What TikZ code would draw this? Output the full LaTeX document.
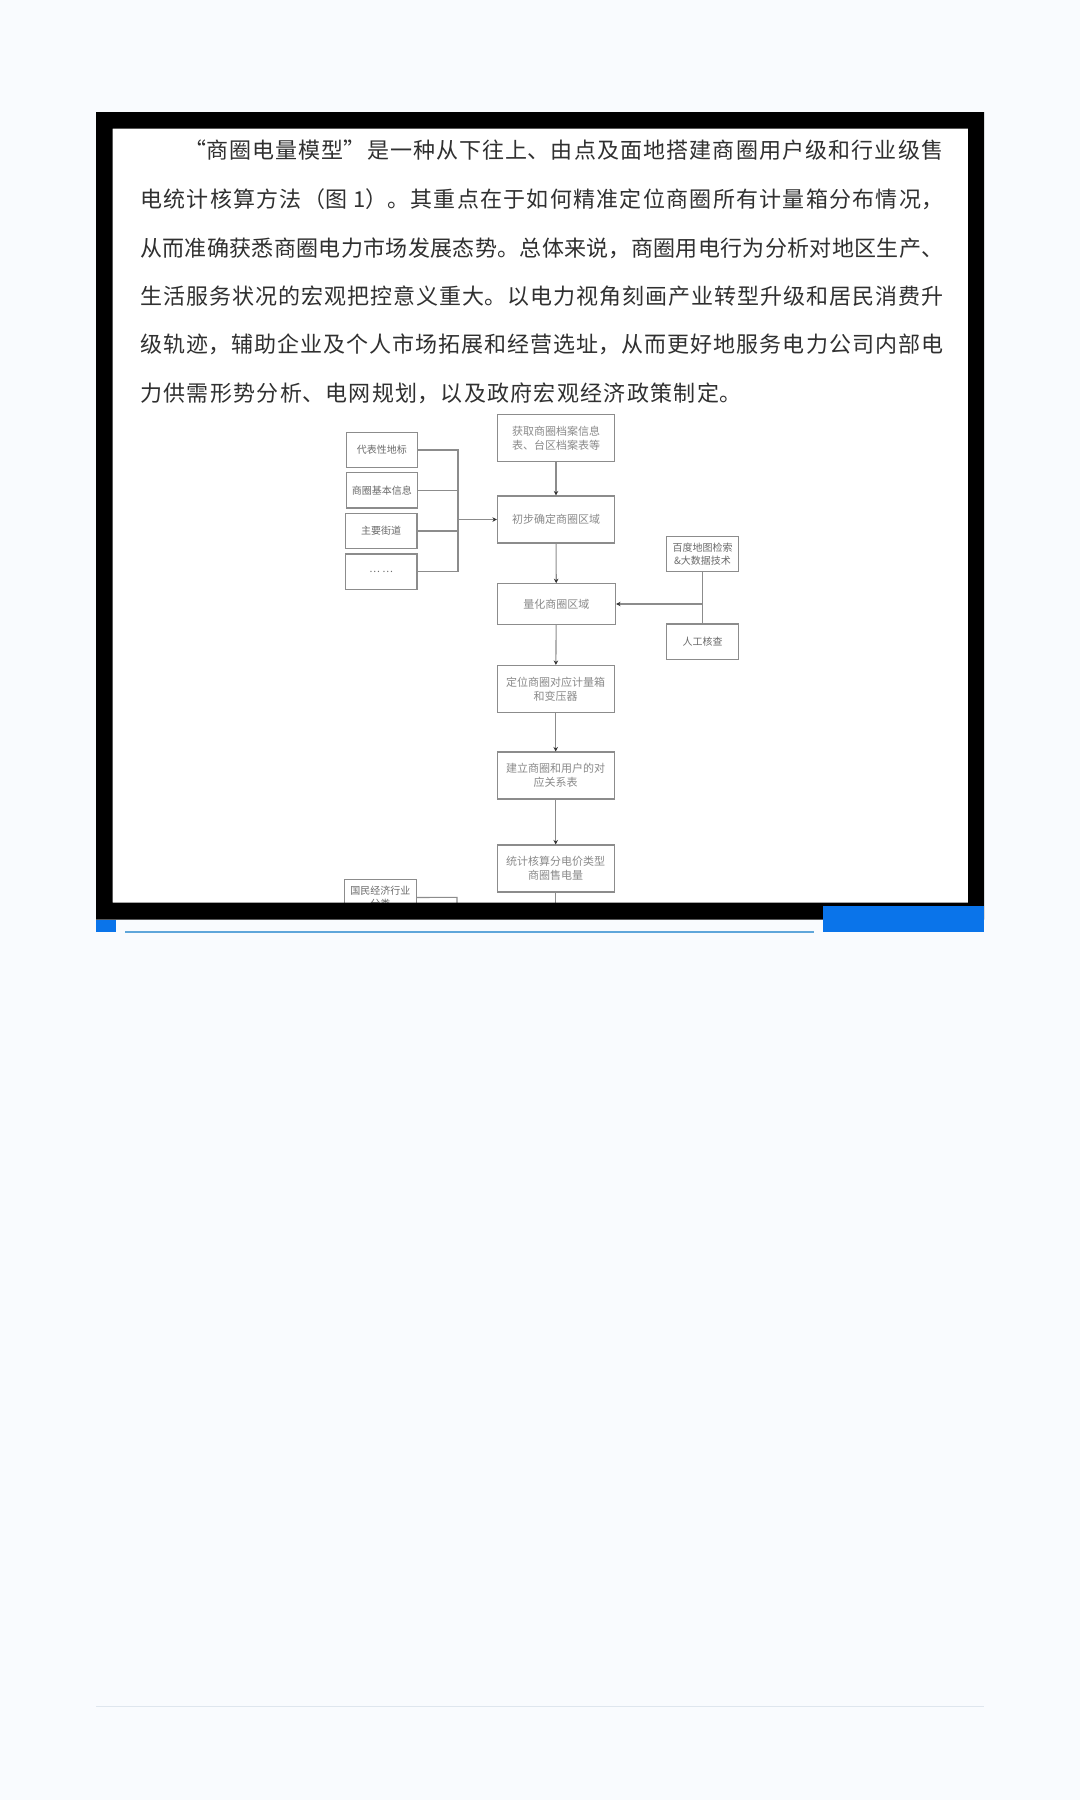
\documentclass[tikz,border=0pt]{standalone}
\usepackage{fontspec}
\setmainfont{Noto Sans CJK SC}
\usetikzlibrary{arrows.meta}
\XeTeXlinebreaklocale "zh"
\XeTeXlinebreakskip=0pt plus 3pt
\definecolor{pagebg}{HTML}{F9FBFE}
\definecolor{barblue}{HTML}{0A74EA}
\definecolor{rulel}{HTML}{5FA6DA}
\definecolor{ruled}{HTML}{DFE6EE}
\definecolor{boxline}{HTML}{8C8C8C}
\definecolor{midtext}{HTML}{8A8A8A}
\definecolor{sidetext}{HTML}{6A6A6A}
\definecolor{bodytext}{HTML}{303030}
\newcommand{\bodyline}[4]{\node[bodyl,anchor=west] (#1) at #2 {\parbox{#3pt}{\parindent=0pt\parfillskip=0pt\relax #4}};}
\tikzset{
  bodyl/.style={inner sep=0pt,text=bodytext,font=\fontsize{22}{26}\selectfont},
  midbox/.style={draw=boxline,line width=1.1pt,fill=white,inner sep=0pt,align=center,text=midtext,
    minimum width=117pt,minimum height=47pt,font=\fontsize{11}{14}\selectfont},
  sidebox/.style={draw=boxline,line width=1.1pt,fill=white,inner sep=0pt,align=center,text=sidetext,
    minimum width=71.5pt,minimum height=35.5pt,font=\fontsize{10}{13}\selectfont},
  conn/.style={draw=boxline,line width=1.1pt},
  arr/.style={conn,-{Stealth[length=4.5pt,width=4.5pt,color=black!80]}}
}
\begin{document}
\begin{tikzpicture}[x=1pt,y=-1pt]
\useasboundingbox (0,0) rectangle (1080,1800);
\fill[pagebg] (0,0) rectangle (1080,1800);
\fill[white] (112,128) rectangle (969,903);
% body text
\bodyline{tta}{(184,150)}{759}{“商圈电量模型”是一种从下往上、由点及面地搭建商圈用户级和行业级售}
\bodyline{ttb}{(140,199)}{803}{电统计核算方法（图 1）。其重点在于如何精准定位商圈所有计量箱分布情况，}
\bodyline{ttc}{(140,248)}{803}{从而准确获悉商圈电力市场发展态势。总体来说，商圈用电行为分析对地区生产、}
\bodyline{ttd}{(140,296)}{803}{生活服务状况的宏观把控意义重大。以电力视角刻画产业转型升级和居民消费升}
\bodyline{tte}{(140,344)}{803}{级轨迹，辅助企业及个人市场拓展和经营选址，从而更好地服务电力公司内部电}
\bodyline{ttf}{(140,393)}{601}{力供需形势分析、电网规划，以及政府宏观经济政策制定。}
% centre column
\node[midbox] (m1) at (556,438) {获取商圈档案信息\\表、台区档案表等};
\node[midbox] (m2) at (556,519.5) {初步确定商圈区域};
\node[midbox,minimum width=118.5pt,minimum height=40.5pt] (m3) at (556.3,604) {量化商圈区域};
\node[midbox] (m4) at (555.7,689) {定位商圈对应计量箱\\和变压器};
\node[midbox] (m5) at (555.7,775.5) {建立商圈和用户的对\\应关系表};
\node[midbox] (m6) at (555.7,868.5) {统计核算分电价类型\\商圈售电量};
% left column
\node[sidebox] (l1) at (381.8,450) {代表性地标};
\node[sidebox] (l2) at (381.8,490.2) {商圈基本信息};
\node[sidebox] (l3) at (381.2,531) {主要街道};
\node[sidebox] (l4) at (381.2,571.7) {… …};
\node[sidebox] (l5) at (380.4,897.5) {国民经济行业\\分类};
% right column
\node[sidebox] (r1) at (702.5,553.8) {百度地图检索\\\&大数据技术};
\node[sidebox] (r2) at (702.5,641.7) {人工核查};
% centre arrows
\draw[arr] (m1) -- (m2);
\draw[arr] (m2) -- (m3);
\draw[arr] (m3) -- (m4);
\draw[arr] (m4) -- (m5);
\draw[arr] (m5) -- (m6);
\coordinate (m6end) at (555.7,910);
\draw[conn] (m6) -- (m6end);
% left bracket
\coordinate (bust) at (458,450);
\coordinate (busb) at (458,571.7);
\draw[conn] (l1.east) -- (bust) -- (busb) -- (l4.east);
\draw[conn] (l2.east) -- (l2.east -| bust);
\draw[conn] (l3.east) -- (l3.east -| bust);
\draw[arr] (bust |- m2.west) -- (m2.west);
\coordinate (lbt) at (457,897.3);
\coordinate (lbb) at (457,910);
\draw[conn] (l5.east) -- (lbt) -- (lbb);
% right branch
\draw[conn] (r1) -- (r2);
\draw[arr] (r1.south |- m3.east) -- (m3.east);
% frame
\fill[black,even odd rule] (96,112) rectangle (984,919.5) (112.5,128.5) rectangle (968,902.5);
% blue bars
\fill[barblue] (823,906) rectangle (984,932);
\fill[barblue] (96,919.5) rectangle (115.5,932);
\draw[rulel,line width=1.3pt] (125,932) -- (814,932);
\draw[ruled,line width=1pt] (96,1706) -- (984,1706);
\end{tikzpicture}
\end{document}
